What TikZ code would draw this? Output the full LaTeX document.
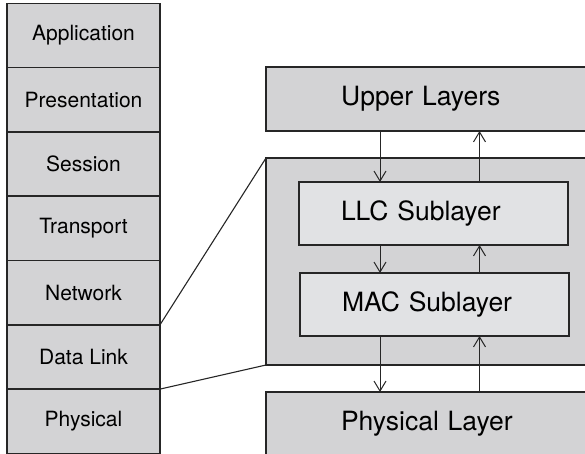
\documentclass[tikz,border=0pt]{standalone}
\usepackage{fontspec}
\setmainfont{TeX Gyre Heros}
\usepackage{xcolor}
\usepackage{tikz}
\usetikzlibrary{arrows.meta, positioning}
\definecolor{edge}{HTML}{262626}
\definecolor{darkbg}{HTML}{D3D3D5}
\definecolor{lightbg}{HTML}{E1E2E4}

\begin{document}
\begin{tikzpicture}[x=1pt, y=-1pt, >={Straight Barb[length=10pt, width=12pt]}]
    \tikzstyle{osi} = [rectangle, draw=edge, fill=darkbg, line width=1.4pt, outer sep=0pt, inner sep=0pt, minimum width=153pt, minimum height=64.3pt, font=\fontsize{21}{25}\selectfont, text centered]
    \tikzstyle{layer} = [rectangle, draw=edge, fill=darkbg, line width=1.4pt, outer sep=0pt, anchor=north west, inner xsep=75pt, text width=184pt, align=left, minimum height=64pt, font=\fontsize{26.5}{31}\selectfont]
    \tikzstyle{sub} = [rectangle, draw=edge, fill=lightbg, line width=1.4pt, outer sep=0pt, anchor=north west, inner xsep=42pt, text width=185pt, align=left, minimum height=63pt, font=\fontsize{26.5}{31}\selectfont]
    \tikzstyle{arr} = [draw=edge, ->, line width=1pt]

    \clip (0,0) rectangle (585,454);

    % OSI stack on the left
    \node [osi, anchor=north west] (app) at (7,3.3) {Application};
    \node [osi, below=0pt of app] (pre) {Presentation};
    \node [osi, below=0pt of pre] (ses) {Session};
    \node [osi, below=0pt of ses] (tra) {Transport};
    \node [osi, below=0pt of tra] (net) {Network};
    \node [osi, below=0pt of net] (dl) {Data Link};
    \node [osi, below=0pt of dl] (phy) {Physical};

    % IEEE 802 view on the right
    \node [layer] (up) at (266,67) {Upper Layers};
    \node [rectangle, draw=edge, fill=darkbg, line width=1.4pt, outer sep=0pt, inner sep=0pt, anchor=north west, minimum width=334pt, minimum height=207pt] (dlx) at (266,158) {};
    \node [sub] (llc) at (299,182) {LLC Sublayer};
    \node [sub, minimum width=268pt] (mac) at (300,273) {MAC Sublayer};
    \node [layer] (pl) at (266,392) {Physical Layer};

    \path [draw=edge, line width=1.1pt] (net.south east) -- (dlx.north west);
    \path [draw=edge, line width=1.1pt] (dl.south east) -- (dlx.south west);

    \coordinate (dn) at (380,0);
    \coordinate (upw) at (479.5,0);
    \path [arr] (up.south -| dn) -- (llc.north -| dn);
    \path [arr] (llc.north -| upw) -- (up.south -| upw);
    \path [arr] (llc.south -| dn) -- (mac.north -| dn);
    \path [arr] (mac.north -| upw) -- (llc.south -| upw);
    \path [arr] (mac.south -| dn) -- (pl.north -| dn);
    \path [arr] (pl.north -| upw) -- (mac.south -| upw);
\end{tikzpicture}
\end{document}
